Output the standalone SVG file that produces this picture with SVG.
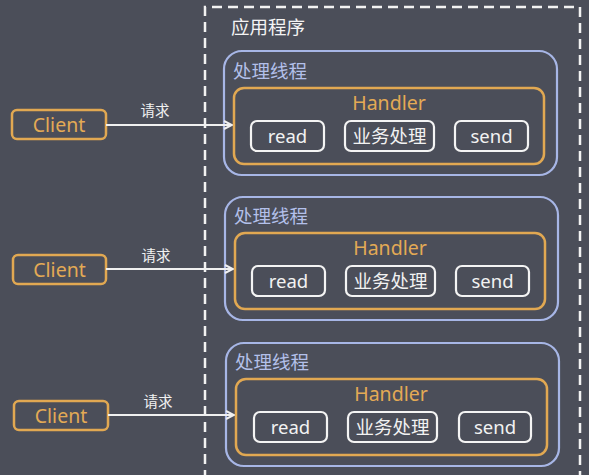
<svg xmlns="http://www.w3.org/2000/svg" width="589" height="475" viewBox="0 0 589 475">
<defs>
<style>
.bg{fill:#4b4e59}
.app{fill:none;stroke:#f2f2f2;stroke-width:2.5;stroke-dasharray:10 6}
.thread{fill:none;stroke:#a7b6e6;stroke-width:2.2}
.handler{fill:none;stroke:#e1a852;stroke-width:2.5}
.op{fill:none;stroke:#f4f4f4;stroke-width:2.2}
.client{fill:none;stroke:#e1a852;stroke-width:2.5}
.t{font-family:"Noto Sans","Noto Sans CJK SC",sans-serif}
.tw{fill:#f2f2f2;font-size:18.5px;text-anchor:middle}
.tt{fill:#b3c0ea;font-size:18.5px}
.th{fill:#e3aa55;font-size:19.5px;text-anchor:middle}
.tc{fill:#e3aa55;font-size:19.5px;text-anchor:middle}
.tl{fill:#f0f0f0;font-size:14.5px;text-anchor:middle}
.ta{fill:#f4f4f4;font-size:18.5px}
.conn{stroke:#f0f0f0;stroke-width:2;fill:none}
</style>
<marker id="arr" viewBox="0 0 10 10" refX="9" refY="5" markerWidth="10" markerHeight="10" markerUnits="userSpaceOnUse" orient="auto">
<path d="M1,1 L9,5 L1,9" fill="none" stroke="#f0f0f0" stroke-width="2"/>
</marker>
</defs>
<rect class="bg" x="0" y="0" width="589" height="475"/>
<g id="app">
<path class="app" d="M205,480 L205,7 L580,7 L580,480"/>
<text class="t ta" x="231" y="34">应用程序</text>
</g>
<g id="thread1">
<rect class="thread" x="224" y="51" width="333" height="124" rx="18"/>
<text class="t tt" x="233" y="78">处理线程</text>
<g id="handler1">
<rect class="handler" x="234" y="88" width="310" height="76" rx="10"/>
<text class="t th" x="389" y="110">Handler</text>
<rect class="op" x="251" y="121" width="73" height="30" rx="6"/><text class="t tw" x="287.5" y="142.5">read</text>
<rect class="op" x="345" y="121" width="89" height="30" rx="6"/><text class="t tw" x="389.5" y="142.5">业务处理</text>
<rect class="op" x="455" y="121" width="73" height="30" rx="6"/><text class="t tw" x="491.5" y="142.5">send</text>
</g>
</g>
<g id="thread2">
<rect class="thread" x="225" y="197" width="333" height="123" rx="18"/>
<text class="t tt" x="234" y="223">处理线程</text>
<g id="handler2">
<rect class="handler" x="235" y="233" width="310" height="76" rx="10"/>
<text class="t th" x="390" y="255">Handler</text>
<rect class="op" x="252" y="266" width="73" height="30" rx="6"/><text class="t tw" x="288.5" y="287.5">read</text>
<rect class="op" x="346" y="266" width="89" height="30" rx="6"/><text class="t tw" x="390.5" y="287.5">业务处理</text>
<rect class="op" x="456" y="266" width="73" height="30" rx="6"/><text class="t tw" x="492.5" y="287.5">send</text>
</g>
</g>
<g id="thread3">
<rect class="thread" x="226" y="343" width="333" height="123" rx="18"/>
<text class="t tt" x="235" y="369">处理线程</text>
<g id="handler3">
<rect class="handler" x="236" y="379" width="311" height="76" rx="10"/>
<text class="t th" x="391" y="401">Handler</text>
<rect class="op" x="254" y="412" width="73" height="30" rx="6"/><text class="t tw" x="290.5" y="433.5">read</text>
<rect class="op" x="348" y="412" width="89" height="30" rx="6"/><text class="t tw" x="392.5" y="433.5">业务处理</text>
<rect class="op" x="459" y="412" width="72" height="30" rx="6"/><text class="t tw" x="495" y="433.5">send</text>
</g>
</g>
<g id="client1">
<rect class="client" x="12" y="110" width="94" height="29" rx="5"/>
<text class="t tc" x="59" y="131.5">Client</text>
</g>
<g id="client2">
<rect class="client" x="13" y="255" width="93" height="29" rx="5"/>
<text class="t tc" x="59.5" y="276.5">Client</text>
</g>
<g id="client3">
<rect class="client" x="14" y="401" width="94" height="29" rx="5"/>
<text class="t tc" x="61" y="422.5">Client</text>
</g>
<g id="connectors">
<line class="conn" x1="106" y1="125" x2="232" y2="125" marker-end="url(#arr)"/>
<text class="t tl" x="155" y="116">请求</text>
<line class="conn" x1="106" y1="269" x2="233" y2="269" marker-end="url(#arr)"/>
<text class="t tl" x="156" y="261">请求</text>
<line class="conn" x1="108" y1="415" x2="234" y2="415" marker-end="url(#arr)"/>
<text class="t tl" x="158" y="407">请求</text>
</g>
</svg>
